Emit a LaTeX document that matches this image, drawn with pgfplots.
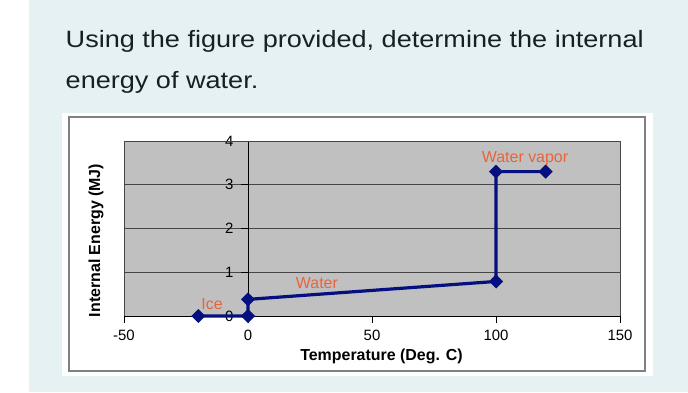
\documentclass[border=0pt]{standalone}
\usepackage{graphicx}
\usepackage{pgfplots}
\pgfplotsset{compat=1.18}
\usepackage{pgfplotstable}
\usepackage{fontspec}
\setmainfont{Liberation Sans}
\definecolor{bgblue}{RGB}{230,241,244}
\definecolor{titletxt}{RGB}{25,32,36}
\definecolor{plotgray}{RGB}{192,192,192}
\definecolor{navyline}{RGB}{5,15,128}
\definecolor{annot}{RGB}{232,100,60}
\definecolor{panelborder}{RGB}{128,128,128}
\definecolor{gridc}{RGB}{70,70,70}

\pgfplotstableread{
x y
-20 0
0 0
0 0.38
100 0.79
100 3.30
120 3.30
}\energydata

\newlength\titlew
\newcommand\titlefont{\fontsize{23.7}{28}\selectfont}

\begin{document}
\settowidth{\titlew}{\titlefont Using the figure provided, determine the internal}%
\pgfmathsetmacro\tsx{580.17/\titlew}%
\begin{tikzpicture}[x=1bp,y=1bp]
\useasboundingbox (0,0) rectangle (688,392);
\fill[white] (0,0) rectangle (688,392);
\fill[bgblue] (29,0) rectangle (688,392);
\fill[white] (62,16) rectangle (653,279);
\draw[panelborder, line width=1.2bp] (69,21) rectangle (645,275);
\node[anchor=base west, inner sep=0, text=titletxt] at (65.5,344.5)
  {\scalebox{\tsx}[1]{\titlefont Using the figure provided, determine the internal}};
\node[anchor=base west, inner sep=0, text=titletxt] at (65.5,304)
  {\scalebox{\tsx}[1]{\titlefont energy of water.}};

\begin{axis}[
  at={(124bp,76bp)}, anchor=south west,
  scale only axis, width=496bp, height=175bp,
  xmin=-50, xmax=150, ymin=0, ymax=4,
  axis lines=middle,
  axis line style={-, black, line width=0.9bp},
  hide obscured x ticks=false, hide obscured y ticks=false,
  xtick={-50,0,50,100,150}, ytick={0,1,2,3,4},
  minor tick num=0,
  tick align=outside, major tick length=7bp,
  tick style={black, line width=0.9bp},
  ymajorgrids, grid style={color=gridc, line width=0.9bp},
  axis background/.style={fill=plotgray},
  ticklabel style={font=\fontsize{15}{17}\selectfont, text=black},
  xticklabel style={yshift=-4bp},
  yticklabel style={xshift=-4bp},
  /pgf/number format/assume math mode=true,
  clip=false,
]
\draw[gridc, line width=0.9bp] (rel axis cs:0,0) -- (rel axis cs:0,1) -- (rel axis cs:1,1) -- (rel axis cs:1,0);
\addplot[navyline, line width=3.2bp, mark=diamond*, mark size=4.8bp,
  mark options={xscale=1.33, solid, fill=navyline}] table[x=x, y=y] {\energydata};
\node[anchor=base, text=annot, font=\fontsize{16}{18}\selectfont] at (axis cs:-14.5,0.16) {Ice};
\node[anchor=base, text=annot, font=\fontsize{16}{18}\selectfont] at (axis cs:27.8,0.64) {Water};
\node[anchor=base, text=annot, font=\fontsize{16}{18}\selectfont] at (axis cs:111.7,3.52) {Water vapor};
\end{axis}
\node[anchor=base, font=\bfseries\fontsize{16}{18}\selectfont] at (381.5,32) {Temperature (Deg. C)};
\node[anchor=base, rotate=90, font=\bfseries\fontsize{16}{18}\selectfont] at (100,151.5) {Internal Energy (MJ)};
\end{tikzpicture}
\end{document}
